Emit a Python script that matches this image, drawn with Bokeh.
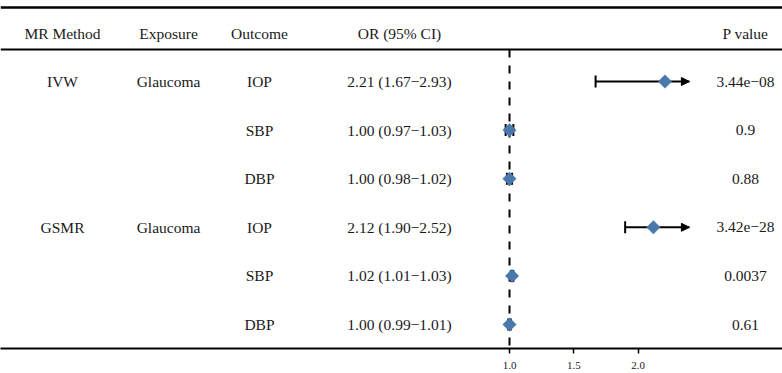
import numpy as np
from bokeh.plotting import figure
from bokeh.models import (Range1d, FixedTicker, PrintfTickFormatter, Arrow,
                          NormalHead, ColumnDataSource, Span)
from bokeh.core.properties import value
from bokeh.embed import file_html
from bokeh.resources import INLINE

# ---------------- data ----------------
headers = ["MR Method", "Exposure", "Outcome", "OR (95% CI)", "P value"]
methods = ["IVW", "", "", "GSMR", "", ""]
exposures = ["Glaucoma", "", "", "Glaucoma", "", ""]
outcomes = ["IOP", "SBP", "DBP", "IOP", "SBP", "DBP"]
or_est = [2.21, 1.00, 1.00, 2.12, 1.02, 1.00]
or_low = [1.67, 0.97, 0.98, 1.90, 1.01, 0.99]
or_high = [2.93, 1.03, 1.02, 2.52, 1.03, 1.01]
pvals = ["3.44e\u221208", "0.9", "0.88", "3.42e\u221228", "0.0037", "0.61"]
x_ticks = [1.0, 1.5, 2.0]
null_value = 1.0
clip_max = 2.40

# ---------------- layout ----------------
FONT = "Liberation Serif"
FS = "15.5px"
TXT = "#1a1a1a"
BLUE = "#4A78AA"

px_per_unit = 128.5
ref_px = 509.0
x_start = null_value + (0 - ref_px) / px_per_unit
x_end = null_value + (782 - ref_px) / px_per_unit

row_px = 48.6
y_bottom = (348 - 81) / row_px
y_top = (0 - 81) / row_px

p = figure(frame_width=782, frame_height=348,
           x_range=Range1d(x_start, x_end),
           y_range=Range1d(y_bottom, y_top),
           output_backend="svg", toolbar_location=None,
           min_border_left=0, min_border_right=0,
           min_border_top=0, min_border_bottom=0,
           y_axis_location=None)
p.extra_x_ranges = {"px": Range1d(0, 782)}
p.xgrid.visible = False
p.ygrid.visible = False
p.outline_line_color = None
p.background_fill_color = "white"
p.border_fill_color = "white"

ax = p.xaxis[0]
ax.ticker = FixedTicker(ticks=x_ticks)
ax.formatter = PrintfTickFormatter(format="%.1f")
ax.axis_line_width = 2
ax.axis_line_color = "black"
ax.major_tick_line_width = 1.5
ax.major_tick_line_color = "black"
ax.major_tick_out = 5
ax.major_tick_in = 0
ax.minor_tick_out = 0
ax.minor_tick_in = 0
ax.major_label_text_font = FONT
ax.major_label_text_font_size = "11px"
ax.major_label_text_color = TXT
ax.major_label_standoff = 8

# horizontal rules
p.add_layout(Span(location=(7 - 81) / row_px, dimension="width", line_color="black", line_width=2.5))
hdr_line = (49 - 81) / row_px
p.add_layout(Span(location=hdr_line, dimension="width", line_color="black", line_width=2))

# null reference dashed line
p.segment(x0=[null_value], x1=[null_value], y0=[hdr_line], y1=[y_bottom],
          line_color="black", line_width=2, line_dash="8 8")

# table text
col_px = [62, 168, 259, 399, 745]
tx, ty, tt = [], [], []
for c, h in zip(col_px, headers):
    tx.append(c); ty.append(-0.99); tt.append(h)
ci_txt = [f"{e:.2f} ({l:.2f}\u2212{h:.2f})" for e, l, h in zip(or_est, or_low, or_high)]
for i in range(len(outcomes)):
    for c, t in zip(col_px, [methods[i], exposures[i], outcomes[i], ci_txt[i], pvals[i]]):
        if t:
            tx.append(c); ty.append(i); tt.append(t)
p.text(x="x", y="y", text="t", source=ColumnDataSource(dict(x=tx, y=ty, t=tt)),
       x_range_name="px", text_font=value(FONT), text_font_size=FS,
       text_align="center", text_baseline="middle", text_color=TXT)

# confidence intervals
rows = list(range(len(outcomes)))
hi_clip = [min(h, clip_max) for h in or_high]
p.segment(x0=or_low, x1=hi_clip, y0=rows, y1=rows, line_color="black", line_width=2)
p.scatter(x=or_low, y=rows, marker="dash", angle=np.pi / 2, size=12,
          line_color="black", line_width=2)
ur = [i for i in rows if or_high[i] <= clip_max]
p.scatter(x=[or_high[i] for i in ur], y=ur, marker="dash", angle=np.pi / 2, size=12,
          line_color="black", line_width=2)
cr = [i for i in rows if or_high[i] > clip_max]
arr_src = ColumnDataSource(dict(xs=[clip_max - 0.05 for _ in cr], xe=[clip_max for _ in cr],
                                ys=cr, ye=cr))
p.add_layout(Arrow(end=NormalHead(size=8, fill_color="black", line_color="black", line_width=1),
                   x_start="xs", x_end="xe", y_start="ys", y_end="ye", source=arr_src,
                   line_color="black", line_width=2, level="underlay"))

# point estimates
p.scatter(x=or_est, y=rows, marker="square", angle=np.pi / 4, size=9.5,
          fill_color=BLUE, line_color=BLUE, line_width=0.5)

open("out.html", "w").write(file_html(p, INLINE))
